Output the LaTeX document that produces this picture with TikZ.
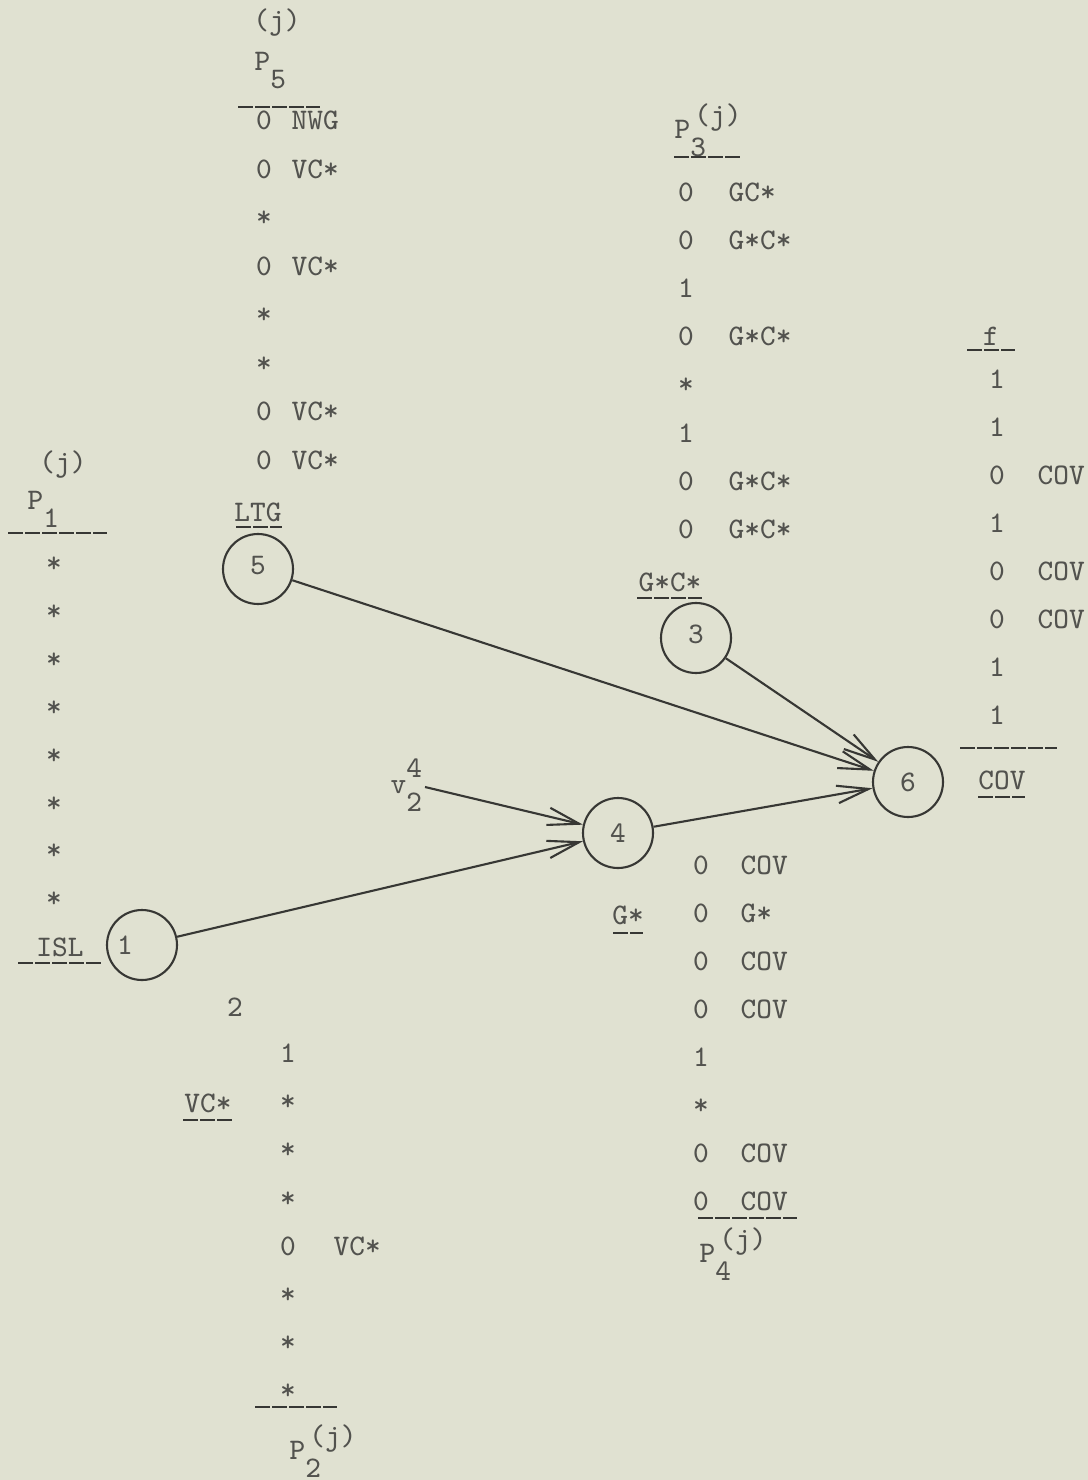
\documentclass[tikz,border=0pt]{standalone}
\usepackage{fontspec}
\usetikzlibrary{arrows.meta}

\definecolor{Paper}{RGB}{224, 225, 209}
\definecolor{Ink}{RGB}{82, 82, 78}
\definecolor{Pencil}{RGB}{55, 55, 52}

% P with a lowered index, and with index plus (j) on top
\newcommand{\psub}[1]{P\raisebox{-1.8mm}{#1}}
\newcommand{\pvec}[1]{P\raisebox{-1.8mm}{\rlap{#1}}\kern0.4mm\raisebox{1.4mm}{(j)}}

\begin{document}
\begin{tikzpicture}[x=0.1mm, y=-0.1mm,
                every node/.style={font=\ttfamily\fontsize{8.5}{10}\selectfont, text=Ink, inner sep=0pt},
                vertex/.style={draw=Pencil, circle, line width=0.6pt, minimum size=7mm},
                entry/.style={anchor=mid},
                note/.style={anchor=mid west},
                rule/.style={draw=Pencil, line width=0.7pt, dash pattern=on 1.5mm off 0.2mm},
                arr/.style={draw=Pencil, line width=0.6pt, -{Straight Barb[length=9pt, width=5pt]}}]

                \useasboundingbox[fill=Paper] (0,0) rectangle (1088,1480);

                % Vertices
                \node[vertex] (n1) at (142,945) {1\kern3.4mm};
                \node[vertex] (n5) at (258,569) {\raisebox{0.7mm}{5}};
                \node[vertex] (n3) at (696,638) {\raisebox{0.7mm}{3}};
                \node[vertex] (n4) at (618,833) {4};
                \node[vertex] (n6) at (908,782) {6};

                % Labels next to the vertices
                \node (ltg) at (258,512) {LTG};
                \node (gc) at (670,582) {G*C*};
                \node (isl) at (60,947) {ISL};
                \node (gs) at (628,915) {G*};
                \node (vcs) at (208,1103) {VC*};
                \node (cov) at (1002,780) {COV};
                \node (two) at (235,1007) {2};
                \node[anchor=base west] (v24) at (390,793) {v\raisebox{-1.8mm}{\rlap{2}}\raisebox{1.6mm}{4}};
                \coordinate (vtail) at (425,787);

                % Column heads
                \node (p5j) at (277,23) {(j)};
                \node[anchor=base west] (p5) at (254,71) {\psub{5}};
                \node (p1j) at (63,465) {(j)};
                \node[anchor=base west] (p1) at (27,509) {\psub{1}};
                \node[anchor=base west] (p3) at (674,139) {\pvec{3}};
                \node (f) at (991,336) {f};
                \node[anchor=base west] (p4) at (699,1262) {\pvec{4}};
                \node[anchor=base west] (p2) at (289,1459) {\pvec{2}};

                % Columns
                \foreach \a/\b [count=\i from 0] in {0/NWG, 0/VC*, */{}, 0/VC*, */{}, */{}, 0/VC*, 0/VC*}{
                    \node[entry] (p5a-\i) at (264, 122+48.5*\i) {\a};
                    \node[note] (p5b-\i) at (291, 122+48.5*\i) {\b};
                }
                \foreach \i in {0,...,7}
                    \node[entry] (p1a-\i) at (54, 565+47.9*\i) {*};
                \foreach \a/\b [count=\i from 0] in {0/GC*, 0/G*C*, 1/{}, 0/G*C*, */{}, 1/{}, 0/G*C*, 0/G*C*}{
                    \node[entry] (p3a-\i) at (686, 194+48.1*\i) {\a};
                    \node[note] (p3b-\i) at (728, 194+48.1*\i) {\b};
                }
                \foreach \a/\b [count=\i from 0] in {1/{}, 1/{}, 0/COV, 1/{}, 0/COV, 0/COV, 1/{}, 1/{}}{
                    \node[entry] (fa-\i) at (997, 381+48*\i) {\a};
                    \node[note] (fb-\i) at (1037, 381+48*\i) {\b};
                }
                \foreach \a/\b [count=\i from 0] in {0/COV, 0/G*, 0/COV, 0/COV, 1/{}, */{}, 0/COV, 0/COV}{
                    \node[entry] (p4a-\i) at (701, 867+48*\i) {\a};
                    \node[note] (p4b-\i) at (740, 867+48*\i) {\b};
                }
                \foreach \a/\b [count=\i from 0] in {1/{}, */{}, */{}, */{}, 0/VC*, */{}, */{}, */{}}{
                    \node[entry] (p2a-\i) at (288, 1055+48.2*\i) {\a};
                    \node[note] (p2b-\i) at (333, 1055+48.2*\i) {\b};
                }

                % Rules
                \draw[rule] (238,107) -- (320,107);
                \draw[rule] (8,533) -- (107,533);
                \draw[rule] (674,157) -- (740,157);
                \draw[rule] (967,350) -- (1015,350);
                \draw[rule] (960,748) -- (1057,748);
                \draw[rule] (698,1218) -- (797,1218);
                \draw[rule] (255,1407) -- (337,1407);
                \draw[rule] (236,527) -- (282,527);
                \draw[rule] (637,598) -- (702,598);
                \draw[rule] (18,963) -- (102,963);
                \draw[rule] (613,933) -- (643,933);
                \draw[rule] (183,1120) -- (233,1120);
                \draw[rule] (978,797) -- (1025,797);

                % Edges
                \draw[arr] (n1) -- (n4);
                \draw[arr] (vtail) -- (n4);
                \draw[arr] (n4) -- (n6);
                \draw[arr] (n5) -- (n6);
                \draw[arr] (n3) -- (n6);
            \end{tikzpicture}
\end{document}
